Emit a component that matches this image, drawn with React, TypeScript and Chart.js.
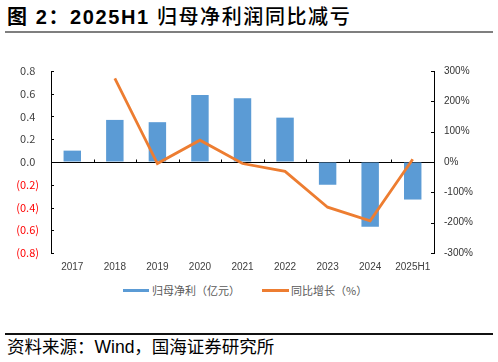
import React, { useEffect, useRef } from "react";
import { Chart, registerables } from "chart.js";

Chart.register(...registerables);

const categories = ["2017", "2018", "2019", "2020", "2021", "2022", "2023", "2024", "2025H1"];
const netProfit = [0.1, 0.37, 0.35, 0.59, 0.56, 0.39, -0.2, -0.57, -0.33];
const yoyGrowth: (number | null)[] = [null, 276, -5, 72, -5, -31, -149, -194, 9];

const leftMin = -0.8;
const leftMax = 0.8;
const leftStep = 0.2;
const rightMin = -300;
const rightMax = 300;
const rightStep = 100;

const seriesNames = ["归母净利（亿元）", "同比增长（%）"];
const titleBold = "图 2：2025H1 ";
const titleRest = "归母净利润同比减亏";
const sourceText = "资料来源：Wind，国海证券研究所";

const BLUE = "#5B9BD5";
const ORANGE = "#ED7D31";

const fmtLeft = (v: number) => {
  const r = Math.round(v * 10) / 10;
  if (r < 0) return `(${Math.abs(r).toFixed(1)})`;
  return `${Math.abs(r).toFixed(1)}\u2004`;
};

const axisTicksPlugin = {
  id: "axisTicks",
  afterDraw(chart: any) {
    const ctx = chart.ctx;
    const xs = chart.scales.x;
    const yl = chart.scales.y;
    const yr = chart.scales.y1;
    const { left, right } = chart.chartArea;
    ctx.save();
    ctx.strokeStyle = "#000";
    ctx.lineWidth = 1;
    ctx.beginPath();
    yl.ticks.forEach((t: any) => {
      const py = Math.round(yl.getPixelForValue(t.value)) + 0.5;
      ctx.moveTo(left, py);
      ctx.lineTo(left + 3, py);
    });
    yr.ticks.forEach((t: any) => {
      const py = Math.round(yr.getPixelForValue(t.value)) + 0.5;
      ctx.moveTo(right - 3, py);
      ctx.lineTo(right, py);
    });
    const y0 = Math.round(yl.getPixelForValue(0)) + 0.5;
    for (let i = 1; i < categories.length; i++) {
      const px = Math.round(xs.getPixelForValue(i - 0.5)) + 0.5;
      ctx.moveTo(px, y0 - 3);
      ctx.lineTo(px, y0);
    }
    ctx.stroke();
    ctx.restore();
  },
};

function ChartCanvas() {
  const ref = useRef<HTMLCanvasElement | null>(null);
  useEffect(() => {
    if (!ref.current) return;
    const chart = new Chart(ref.current, {
      type: "bar",
      data: {
        labels: categories,
        datasets: [
          {
            type: "line" as const,
            label: seriesNames[1],
            data: yoyGrowth,
            yAxisID: "y1",
            borderColor: ORANGE,
            backgroundColor: ORANGE,
            borderWidth: 2.8,
            pointRadius: 0,
            tension: 0,
            order: 0,
          },
          {
            type: "bar" as const,
            label: seriesNames[0],
            data: netProfit,
            yAxisID: "y",
            backgroundColor: BLUE,
            borderWidth: 0,
            barPercentage: 0.41,
            categoryPercentage: 1,
            order: 1,
          },
        ],
      },
      options: {
        animation: false,
        responsive: true,
        maintainAspectRatio: false,
        layout: { padding: { top: 31, left: 0, right: 0, bottom: 0 } },
        plugins: {
          legend: { display: false },
          tooltip: { enabled: false },
        },
        scales: {
          x: {
            position: "bottom",
            grid: { display: false, drawTicks: false },
            border: { display: false },
            ticks: {
              color: "#404040",
              font: { family: "'Liberation Sans', Arial, sans-serif", size: 10 },
              padding: 8,
              maxRotation: 0,
              autoSkip: false,
            },
            afterFit: (s: any) => {
              s.height = 27;
            },
          },
          y: {
            position: "left",
            min: leftMin,
            max: leftMax,
            grid: {
              drawOnChartArea: true,
              drawTicks: false,
              color: (c: any) => (Math.abs(c.tick?.value ?? 1) < 1e-9 ? "#000" : "rgba(0,0,0,0)"),
              lineWidth: 1,
            },
            border: { display: true, color: "#000", width: 1 },
            ticks: {
              stepSize: leftStep,
              padding: 12,
              color: (c: any) => (c.tick && c.tick.value < -1e-9 ? "#FF0000" : "#404040"),
              font: { family: "'Noto Sans CJK SC', sans-serif", size: 11 },
              callback: (v: any) => fmtLeft(Number(v)),
            },
            afterFit: (s: any) => {
              s.width = 51;
            },
          },
          y1: {
            position: "right",
            min: rightMin,
            max: rightMax,
            grid: { drawOnChartArea: false, drawTicks: false },
            border: { display: true, color: "#000", width: 1 },
            ticks: {
              stepSize: rightStep,
              padding: 10,
              color: "#333333",
              font: { family: "'Liberation Sans', Arial, sans-serif", size: 10 },
              callback: (v: any) => `${Number(v)}%`,
            },
            afterFit: (s: any) => {
              s.width = 64;
            },
          },
        },
      },
      plugins: [axisTicksPlugin],
    });
    return () => chart.destroy();
  }, []);
  return <canvas ref={ref} />;
}

export default function App() {
  const latin = "'Liberation Sans', 'Noto Sans CJK SC', sans-serif";
  const cjk = "'Noto Sans CJK SC', sans-serif";
  return (
    <div
      style={{
        position: "absolute",
        left: 0,
        top: 0,
        width: 498,
        height: 362,
        background: "#fff",
        overflow: "hidden",
      }}
    >
      <div
        style={{
          position: "absolute",
          left: 7,
          top: 4,
          height: 24,
          lineHeight: "24px",
          fontSize: 20,
          fontFamily: latin,
          color: "#000",
          whiteSpace: "nowrap",
          letterSpacing: "1.6px",
        }}
      >
        <span style={{ fontWeight: 700 }}>{titleBold}</span>
        <span style={{ fontWeight: 500, fontFamily: cjk }}>{titleRest}</span>
      </div>
      <div style={{ position: "absolute", left: 5, top: 31, width: 488, height: 2, background: "#7f7f7f" }} />
      <div style={{ position: "absolute", left: 0, top: 40, width: 498, height: 240 }}>
        <ChartCanvas />
      </div>
      <div
        style={{
          position: "absolute",
          left: 0,
          top: 282,
          width: 498,
          height: 18,
          fontFamily: cjk,
          fontSize: 11,
          color: "#595959",
        }}
      >
        <div style={{ position: "absolute", left: 123, top: 7, width: 26, height: 3, background: BLUE }} />
        <div style={{ position: "absolute", left: 152, top: 0, lineHeight: "17px", whiteSpace: "nowrap" }}>
          {seriesNames[0]}
        </div>
        <div style={{ position: "absolute", left: 262, top: 7, width: 27, height: 3, background: ORANGE }} />
        <div style={{ position: "absolute", left: 291, top: 0, lineHeight: "17px", whiteSpace: "nowrap" }}>
          {seriesNames[1]}
        </div>
      </div>
      <div style={{ position: "absolute", left: 5, top: 333, width: 488, height: 2, background: "#111" }} />
      <div
        style={{
          position: "absolute",
          left: 7,
          top: 336,
          height: 22,
          lineHeight: "22px",
          fontSize: 17.5,
          fontFamily: latin,
          color: "#000",
          whiteSpace: "nowrap",
        }}
      >
        {sourceText}
      </div>
    </div>
  );
}
